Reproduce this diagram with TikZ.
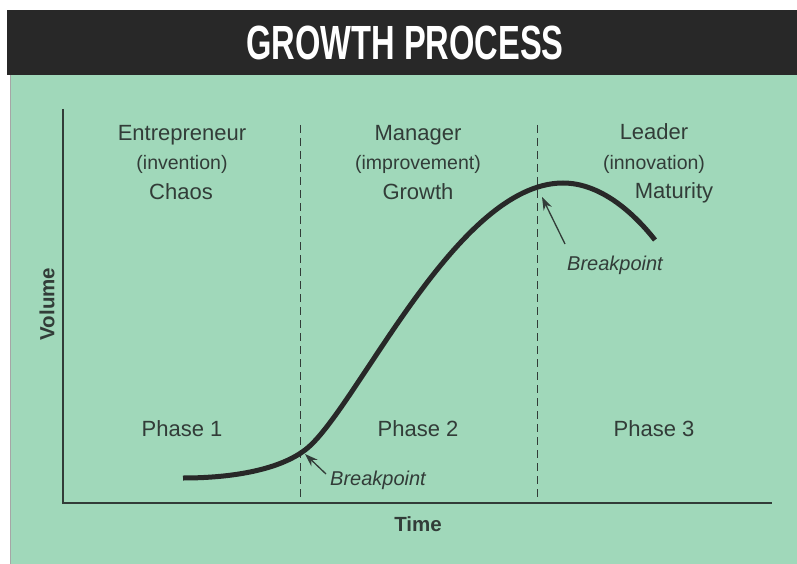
\documentclass[tikz,border=0pt]{standalone}
\usepackage{fontspec}
\setmainfont{Liberation Sans}
\usetikzlibrary{arrows.meta}
\definecolor{panel}{RGB}{160,216,186}
\definecolor{bar}{RGB}{40,40,40}
\definecolor{ink}{RGB}{50,60,56}
\tikzset{
  lbl/.style={text=ink, font=\fontsize{22}{26}\selectfont, inner sep=0pt, anchor=base},
  sub/.style={text=ink, font=\fontsize{19.5}{23}\selectfont, inner sep=0pt, anchor=base},
  bp/.style={text=ink, font=\fontsize{20}{24}\selectfont\itshape, inner sep=0pt, anchor=base west},
  axislabel/.style={text=ink, font=\fontsize{20.5}{24}\selectfont\bfseries, inner sep=0pt},
  axisline/.style={draw=ink, line width=1.5pt},
  divider/.style={draw=ink, line width=1pt, dash pattern=on 8pt off 5pt},
  curve/.style={draw=bar, line width=5pt},
  pointer/.style={draw=ink, line width=1.3pt, -{Stealth[length=13pt,width=9pt]}}
}
\begin{document}
\begin{tikzpicture}[x=1pt,y=-1pt]
\useasboundingbox (0,0) rectangle (797,564);
\fill[white] (0,0) rectangle (797,564);
% panel and title bar
\fill[panel] (10,74) rectangle (797,564);
\draw[gray!70, line width=1pt] (10,74) -- (10,564);
\fill[bar] (7,10) rectangle (797,75);
\node[text=white, inner sep=0pt] (title) at (405,43)
  {\scalebox{0.68}[1]{\fontsize{48}{50}\selectfont\bfseries GROWTH PROCESS}};
% axes
\coordinate (ytop) at (63,109);
\coordinate (origin) at (63,503);
\coordinate (xend) at (772,503);
\draw[axisline] (ytop) -- (origin) -- (xend);
% phase dividers
\coordinate (d1t) at (300,125);
\coordinate (d1b) at (300,503);
\coordinate (d2t) at (537,125);
\coordinate (d2b) at (537,503);
\draw[divider] (d1t) -- (d1b);
\draw[divider] (d2t) -- (d2b);
% column headings
\node[lbl] (ent) at (182,141) {Entrepreneur};
\node[sub] (inv) at (182,170) {(invention)};
\node[lbl] (chaos) at (181,199) {Chaos};
\node[lbl] (man) at (418,141) {Manager};
\node[sub] (imp) at (418,170) {(improvement)};
\node[lbl] (growth) at (418,199) {Growth};
\node[lbl] (lead) at (654,140) {Leader};
\node[sub] (inno) at (654,170) {(innovation)};
\node[lbl] (mat) at (674,198) {Maturity};
% phases
\node[lbl] (p1) at (182,436) {Phase 1};
\node[lbl] (p2) at (418,436) {Phase 2};
\node[lbl] (p3) at (654,436) {Phase 3};
% growth curve: slow start, steep rise, peak and decline
\coordinate (c0) at (183,478);
\coordinate (c1) at (305,450);
\coordinate (c2) at (563,183);
\coordinate (c3) at (655,240);
\draw[curve] (c0) .. controls (235,478) and (280,469) .. (c1)
                  .. controls (355,412.5) and (455,183) .. (c2)
                  .. controls (600,183) and (633,212) .. (c3);
% breakpoints
\coordinate (bp1) at (305,454);
\coordinate (bp2) at (542,197);
\coordinate (t1) at (326,474);
\coordinate (t2) at (565,244);
\node[bp] (bpl1) at (330,485) {Breakpoint};
\node[bp] (bpl2) at (567,270) {Breakpoint};
\draw[pointer] (t1) -- (bp1);
\draw[pointer] (t2) -- (bp2);
% axis titles
\node[axislabel, rotate=90] (vol) at (47,304) {Volume};
\node[axislabel, anchor=base] (time) at (418,531) {Time};
\end{tikzpicture}
\end{document}
